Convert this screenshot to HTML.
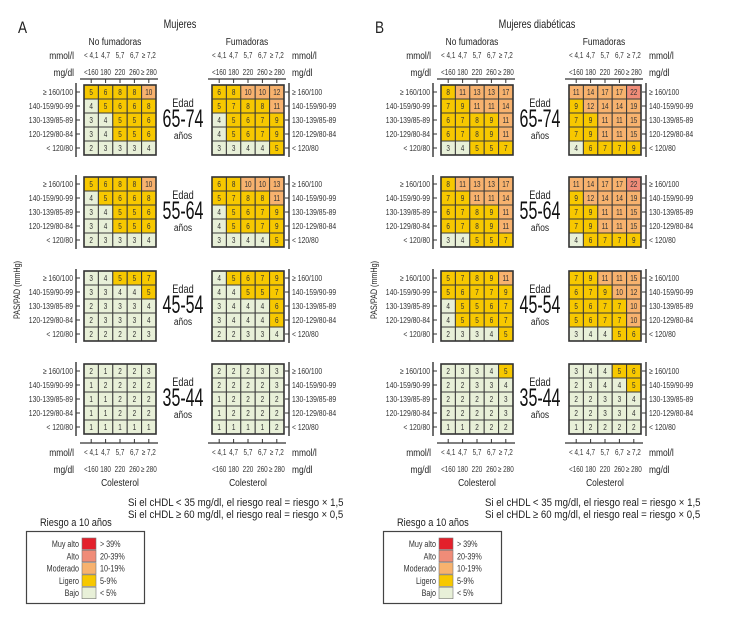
<!DOCTYPE html>
<html><head><meta charset="utf-8">
<style>
html,body{margin:0;padding:0;background:#fff;}
svg{display:block;font-family:"Liberation Sans",sans-serif;}
</style></head>
<body>
<svg id="chart" width="729" height="626" viewBox="0 0 729 626" xmlns="http://www.w3.org/2000/svg"></svg>
<script>
const ageGroups = ["65-74","55-64","45-54","35-44"];
const bpLabels = ["≥ 160/100","140-159/90-99","130-139/85-89","120-129/80-84","< 120/80"];
const mmolTicks = ["< 4,1","4,7","5,7","6,7","≥ 7,2"];
const mgTicks = ["<160","180","220","260","≥ 280"];
const panelTitles = ["Mujeres","Mujeres diabéticas"];
const panelLetters = ["A","B"];
const legendLabels = ["Muy alto","Alto","Moderado","Ligero","Bajo"];
const legendRanges = ["> 39%","20-39%","10-19%","5-9%","< 5%"];

// Panel A: women, non-smokers / smokers
const aNo6574 = [[5,6,8,8,10],[4,5,6,6,8],[3,4,5,5,6],[3,4,5,5,6],[2,3,3,3,4]];
const aSm6574 = [[6,8,10,10,12],[5,7,8,8,11],[4,5,6,7,9],[4,5,6,7,9],[3,3,4,4,5]];
const aNo5564 = [[5,6,8,8,10],[4,5,6,6,8],[3,4,5,5,6],[3,4,5,5,6],[2,3,3,3,4]];
const aSm5564 = [[6,8,10,10,13],[5,7,8,8,11],[4,5,6,7,9],[4,5,6,7,9],[3,3,4,4,5]];
const aNo4554 = [[3,4,5,5,7],[3,3,4,4,5],[2,3,3,3,4],[2,3,3,3,4],[2,2,2,2,3]];
const aSm4554 = [[4,5,6,7,9],[4,4,5,5,7],[3,4,4,4,6],[3,4,4,4,6],[2,2,3,3,4]];
const aNo3544 = [[2,1,2,2,3],[1,2,2,2,2],[1,1,2,2,2],[1,1,2,2,2],[1,1,1,1,1]];
const aSm3544 = [[2,2,2,3,3],[2,2,2,2,3],[1,2,2,2,2],[1,2,2,2,2],[1,1,1,1,2]];
// Panel B: diabetic women
const bNo6574 = [[8,11,13,13,17],[7,9,11,11,14],[6,7,8,9,11],[6,7,8,9,11],[3,4,5,5,7]];
const bSm6574 = [[11,14,17,17,22],[9,12,14,14,19],[7,9,11,11,15],[7,9,11,11,15],[4,6,7,7,9]];
const bNo5564 = [[8,11,13,13,17],[7,9,11,11,14],[6,7,8,9,11],[6,7,8,9,11],[3,4,5,5,7]];
const bSm5564 = [[11,14,17,17,22],[9,12,14,14,19],[7,9,11,11,15],[7,9,11,11,15],[4,6,7,7,9]];
const bNo4554 = [[5,7,8,9,11],[5,6,7,7,9],[4,5,5,6,7],[4,5,5,6,7],[2,3,3,4,5]];
const bSm4554 = [[7,9,11,11,15],[6,7,9,10,12],[5,6,7,7,10],[5,6,7,7,10],[3,4,4,5,6]];
const bNo3544 = [[2,3,3,4,5],[2,2,3,3,4],[2,2,2,2,3],[2,2,2,2,3],[1,1,2,2,2]];
const bSm3544 = [[3,4,4,5,6],[2,3,4,4,5],[2,2,3,3,4],[2,2,3,3,4],[1,2,2,2,2]];

const panels = [
  [[aNo6574,aSm6574],[aNo5564,aSm5564],[aNo4554,aSm4554],[aNo3544,aSm3544]],
  [[bNo6574,bSm6574],[bNo5564,bSm5564],[bNo4554,bSm4554],[bNo3544,bSm3544]]
];

const svg = document.getElementById('chart');
const NS = "http://www.w3.org/2000/svg";
function mk(tag, attrs, text, sx){
  const e = document.createElementNS(NS, tag);
  for (const k in attrs) e.setAttribute(k, attrs[k]);
  if (text !== undefined) e.textContent = text;
  if (tag === 'text'){
    const s = sx === undefined ? 0.8 : sx;
    const x = +attrs.x;
    const base = attrs.transform ? attrs.transform + ' ' : '';
    e.setAttribute('transform', base + `translate(${x} 0) scale(${s} 1) translate(${-x} 0)`);
  }
  svg.appendChild(e);
  return e;
}
const COLORS = {red:"#e3202b", salmon:"#f08c78", orange:"#f7b26e", yellow:"#f7c800", green:"#e8f0d8"};
function colorFor(v){
  if (v > 39) return COLORS.red;
  if (v >= 20) return COLORS.salmon;
  if (v >= 10) return COLORS.orange;
  if (v >= 5) return COLORS.yellow;
  return COLORS.green;
}
const CW = 14.4, CH = 14;
const gridTops = [85,177,271,364];
function xCol(panelX, c){ return panelX + c*CW; }
function yRow(top, r){ return top + r*CH; }

panels.forEach((panel, p) => {
  const off = p*357;
  const gx = [84+off, 212+off];
  const gridW = CW*5;
  let t;
  t = mk('text',{x:18+off,y:33,'font-size':17,fill:'#222'}, panelLetters[p]);
  
  
  t = mk('text',{x:180+off,y:28,'font-size':11.5,'text-anchor':'middle',fill:'#222'}, panelTitles[p]);
  
  
  t = mk('text',{x:115+off,y:45,'font-size':10.5,'text-anchor':'middle',fill:'#222'}, "No fumadoras");
  
  
  t = mk('text',{x:247+off,y:45,'font-size':10.5,'text-anchor':'middle',fill:'#222'}, "Fumadoras");
  
  
  t = mk('text',{x:20+off,y:290,'font-size':9,'text-anchor':'middle',fill:'#222',transform:`rotate(-90 ${20+off} 290)`}, "PAS/PAD (mmHg)");
  
  

  [0,1].forEach(s => {
    const x0 = gx[s];
    [[79,1,58,75],[443,-1,455,472]].forEach(([ly,dir,ym,yg]) => {
      let l = mk('line',{x1:x0-4,x2:x0+gridW+2,y1:ly,y2:ly,stroke:'#333','stroke-width':1.2});
      
      
      for (let c=0;c<5;c++){
        const cx = xCol(x0,c)+CW/2;
        let tk = mk('line',{x1:cx,x2:cx,y1:ly,y2:ly+dir*4,stroke:'#333','stroke-width':1});
        
        
        let a = mk('text',{x:cx,y:ym,'font-size':8.5,'text-anchor':'middle',fill:'#333'}, mmolTicks[c], 0.75);
        
        
        let b = mk('text',{x:cx,y:yg,'font-size':8.5,'text-anchor':'middle',fill:'#333'}, mgTicks[c], 0.75);
        
        
      }
      const ux = s===0 ? x0-10 : x0+gridW+8;
      const anc = s===0 ? 'end' : 'start';
      let u1 = mk('text',{x:ux,y:ym+1,'font-size':10.5,'text-anchor':anc,fill:'#222'}, "mmol/l");
      
      
      let u2 = mk('text',{x:ux,y:yg+1,'font-size':10.5,'text-anchor':anc,fill:'#222'}, "mg/dl");
      
      
    });
    let ct = mk('text',{x:x0+gridW/2,y:486,'font-size':10.5,'text-anchor':'middle',fill:'#222'}, "Colesterol");
    
    
  });

  panel.forEach((pair, g) => {
    const top = gridTops[g];
    const axc = 183+off;
    let e1 = mk('text',{x:axc,y:top+22,'font-size':11.5,'text-anchor':'middle',fill:'#222'}, "Edad");
    
    
    let e2 = mk('text',{x:axc,y:top+42,'font-size':25,'text-anchor':'middle',fill:'#111'}, ageGroups[g], 0.64);
    
    
    let e3 = mk('text',{x:axc,y:top+54,'font-size':10.5,'text-anchor':'middle',fill:'#222'}, "años");
    
    

    pair.forEach((grid, s) => {
      const x0 = gx[s];
      grid.forEach((row, r) => {
        row.forEach((v, c) => {
          const rc = mk('rect',{x:xCol(x0,c),y:yRow(top,r),width:CW,height:CH,fill:colorFor(v),stroke:'#3a3a3a','stroke-width':1});
          
          
          const tx = mk('text',{x:xCol(x0,c)+CW/2,y:yRow(top,r)+CH/2+3,'font-size':8,'text-anchor':'middle',fill:'#333'}, String(v));
          
          
        });
      });
      const ob = mk('rect',{x:x0,y:top,width:CW*5,height:CH*5,fill:'none',stroke:'#333','stroke-width':1.6});
      
      
      const bx = s===0 ? x0-8 : x0+CW*5+5;
      const bl = mk('line',{x1:bx,x2:bx,y1:top-2,y2:top+CH*5+2,stroke:'#333','stroke-width':1.4});
      
      
      for (let r=0;r<5;r++){
        const cy = yRow(top,r)+CH/2;
        const tk = mk('line',{x1:bx,x2:s===0?bx+4:bx-4,y1:cy,y2:cy,stroke:'#333','stroke-width':1});
        
        
        const lx = s===0 ? bx-3 : bx+3;
        const lb = mk('text',{x:lx,y:cy+3,'font-size':8.5,'text-anchor':s===0?'end':'start',fill:'#333'}, bpLabels[r]);
        
        
      }
    });
  });

  let n1 = mk('text',{x:128+off,y:506,'font-size':11.5,fill:'#222'}, "Si el cHDL < 35 mg/dl, el riesgo real = riesgo × 1,5", 0.84);
  
  
  let n2 = mk('text',{x:128+off,y:518,'font-size':11.5,fill:'#222'}, "Si el cHDL ≥ 60 mg/dl, el riesgo real = riesgo × 0,5", 0.84);
  
  

  let lt = mk('text',{x:40+off,y:526,'font-size':11,fill:'#222'}, "Riesgo a 10 años", 0.84);
  
  
  let lbx = mk('rect',{x:26.5+off,y:531.5,width:118,height:72,fill:'#fff',stroke:'#444','stroke-width':1.2});
  
  
  const legCols = [COLORS.red,COLORS.salmon,COLORS.orange,COLORS.yellow,COLORS.green];
  legendLabels.forEach((name, i) => {
    const y = 538 + i*12.3;
    const sw = mk('rect',{x:82+off,y:y,width:14,height:11.5,fill:legCols[i],stroke:'#777','stroke-width':0.6});
    
    
    const a = mk('text',{x:79+off,y:y+9,'font-size':9,'text-anchor':'end',fill:'#333'}, name);
    
    
    const b = mk('text',{x:100+off,y:y+9,'font-size':9,fill:'#333'}, legendRanges[i]);
    
    
  });
});
</script>
</body></html>
